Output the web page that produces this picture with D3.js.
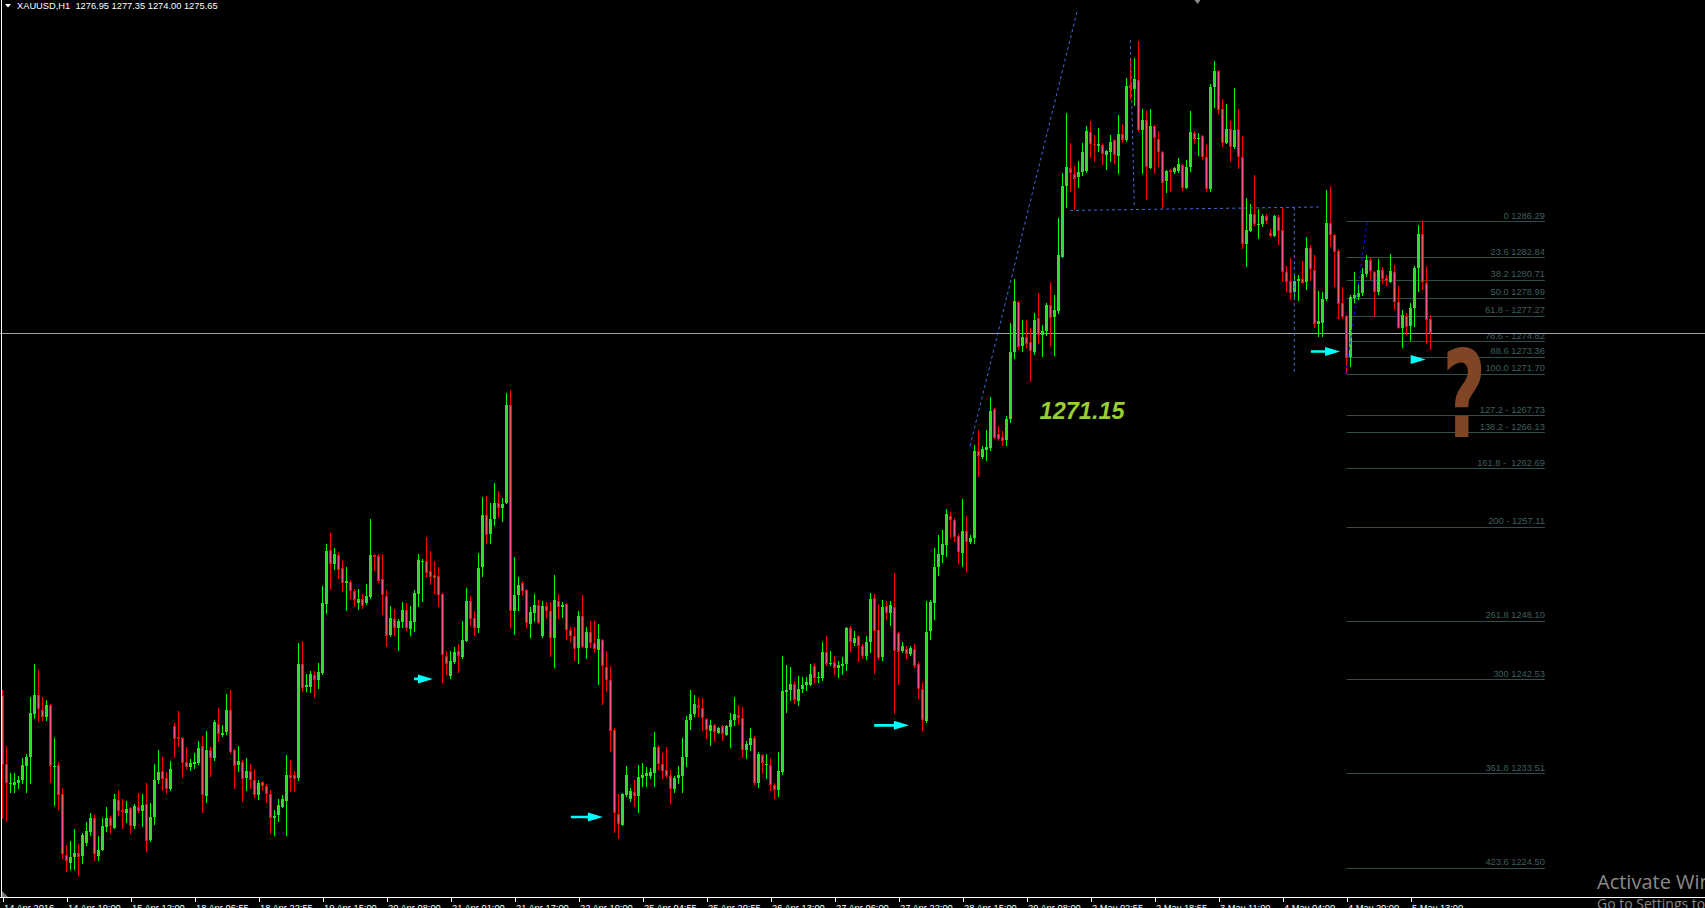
<!DOCTYPE html>
<html><head><meta charset="utf-8">
<script src="https://cdn.jsdelivr.net/npm/d3@7"></script>
<style>
html,body{margin:0;padding:0;background:#000;overflow:hidden}
svg{display:block}
</style></head><body>
<script>
// ---------- DATA (XAUUSD H1) ----------
const opens=[
1241.0,1234.4,1232.5,1232.4,1232.6,1232.9,1234.2,1235.1,1239.2,1241.0,
1239.6,1238.9,1240.0,1234.1,1234.3,1231.5,1225.7,1224.9,1225.5,1225.9,
1225.6,1226.9,1227.9,1229.2,1225.6,1226.2,1228.4,1229.2,1228.3,1231.0,
1230.0,1229.7,1230.2,1228.5,1230.3,1229.9,1230.6,1227.1,1229.3,1232.9,
1233.7,1233.1,1232.0,1238.0,1237.0,1236.9,1234.6,1234.1,1234.4,1234.5,
1236.1,1231.3,1235.7,1235.0,1238.2,1237.2,1237.5,1239.6,1235.7,1234.3,
1234.6,1233.1,1233.7,1232.9,1231.4,1232.7,1232.3,1231.5,1229.2,1229.5,
1230.3,1230.9,1233.4,1233.4,1233.1,1244.0,1241.8,1241.8,1242.9,1242.4,
1243.1,1249.7,1254.9,1253.5,1254.4,1253.1,1251.7,1251.8,1250.9,1249.8,
1250.2,1249.8,1250.4,1254.4,1254.3,1252.1,1250.5,1246.7,1248.3,1247.4,
1248.0,1249.1,1247.3,1248.0,1250.7,1253.7,1253.8,1252.9,1252.5,1252.4,
1250.7,1244.7,1242.8,1244.2,1245.2,1244.6,1246.2,1250.0,1248.4,1247.4,
1253.2,1258.2,1256.4,1257.8,1259.4,1258.9,1259.4,1268.7,1249.0,1250.6,
1251.7,1251.0,1247.8,1248.8,1249.6,1246.6,1249.5,1249.0,1246.5,1250.0,
1249.4,1249.7,1247.2,1246.6,1245.5,1248.6,1245.5,1247.0,1246.0,1245.3,
1246.3,1243.7,1242.4,1237.7,1229.6,1228.6,1231.4,1231.1,1231.7,1231.3,
1233.1,1233.3,1233.3,1233.5,1236.0,1234.4,1233.8,1233.3,1232.0,1233.1,
1233.3,1235.1,1238.6,1239.2,1240.0,1239.8,1238.7,1237.6,1238.1,1237.4,
1238.0,1237.2,1237.9,1238.6,1239.1,1238.8,1235.7,1236.2,1236.9,1232.6,
1235.3,1234.3,1234.3,1232.4,1231.9,1233.6,1241.3,1241.5,1242.1,1240.4,
1241.6,1242.0,1242.0,1243.8,1242.6,1242.6,1245.1,1244.0,1244.2,1243.6,
1243.8,1244.0,1247.4,1246.0,1246.6,1245.7,1244.7,1246.1,1250.3,1247.2,
1244.6,1249.5,1248.8,1249.4,1246.9,1245.2,1245.4,1244.9,1245.4,1244.0,
1241.6,1238.5,1247.1,1249.8,1253.2,1254.4,1255.3,1258.1,1257.7,1256.2,
1254.6,1256.7,1255.6,1256.0,1264.3,1263.8,1264.4,1264.6,1268.3,1266.0,
1265.7,1265.4,1267.4,1273.8,1278.6,1274.4,1275.2,1274.8,1273.8,1277.0,
1275.4,1275.8,1278.3,1277.1,1277.7,1282.9,1289.7,1291.4,1290.8,1290.5,
1291.0,1291.1,1294.8,1293.7,1293.5,1293.6,1292.6,1292.9,1294.1,1292.5,
1294.6,1294.1,1299.3,1298.9,1299.8,1295.0,1296.0,1291.4,1295.4,1294.2,
1292.9,1290.1,1291.2,1291.0,1291.1,1291.7,1289.5,1291.5,1294.7,1294.2,
1294.4,1292.4,1289.4,1299.1,1300.7,1297.0,1293.8,1295.1,1293.4,1295.1,
1292.4,1284.1,1285.4,1287.0,1285.9,1286.0,1286.8,1285.2,1284.9,1286.7,
1285.5,1281.4,1280.6,1279.5,1280.6,1280.8,1280.5,1283.7,1281.6,1276.5,
1276.6,1278.9,1286.1,1285.0,1283.5,1278.5,1277.2,1273.3,1279.0,1279.1,
1279.4,1281.3,1282.6,1281.4,1279.5,1281.6,1280.9,1280.5,1281.4,1278.6,
1276.1,1277.2,1276.3,1278.0,1281.8,1285.1,1280.4,1276.95];
const highs=[
1241.5,1236.1,1233.5,1233.5,1233.3,1235.0,1235.4,1240.8,1244.0,1243.4,
1240.8,1240.5,1240.1,1236.9,1234.6,1232.1,1226.7,1227.0,1228.2,1226.8,
1227.8,1228.9,1229.7,1229.5,1227.5,1229.2,1230.3,1229.4,1231.5,1231.9,
1231.1,1230.9,1230.3,1230.6,1231.6,1231.5,1232.6,1230.7,1234.4,1235.7,
1235.1,1233.6,1234.7,1238.3,1239.5,1237.0,1236.0,1234.9,1235.5,1236.6,
1237.1,1237.6,1236.0,1238.6,1239.8,1238.1,1241.1,1241.5,1235.8,1236.1,
1234.8,1235.0,1234.4,1233.9,1232.9,1232.8,1232.5,1231.9,1230.0,1231.1,
1231.4,1235.3,1234.8,1233.7,1246.0,1246.2,1243.0,1243.3,1243.3,1244.1,
1251.4,1255.4,1256.5,1255.1,1254.7,1253.8,1253.2,1252.0,1251.1,1251.1,
1250.7,1251.6,1257.8,1254.5,1254.5,1254.5,1251.0,1249.5,1249.2,1248.3,
1249.9,1249.8,1249.5,1251.0,1254.5,1254.0,1256.1,1254.8,1253.8,1253.2,
1250.8,1245.2,1245.2,1245.6,1245.9,1248.1,1251.2,1250.5,1249.0,1254.6,
1259.9,1260.0,1259.4,1261.3,1260.5,1259.8,1269.9,1270.2,1254.2,1252.3,
1251.9,1251.1,1249.4,1250.7,1250.1,1250.0,1249.9,1249.9,1252.5,1250.7,
1249.9,1249.8,1247.5,1247.5,1249.0,1250.6,1247.5,1248.1,1248.1,1247.8,
1246.4,1245.2,1243.8,1237.8,1231.5,1231.6,1234.2,1232.1,1232.9,1234.3,
1234.5,1234.1,1234.0,1237.5,1236.2,1235.5,1236.0,1233.8,1233.3,1234.2,
1236.9,1239.0,1241.5,1241.0,1240.8,1240.7,1238.8,1238.6,1238.2,1237.9,
1238.1,1238.1,1239.3,1240.8,1240.0,1239.9,1236.6,1237.8,1237.1,1235.6,
1235.4,1235.4,1235.0,1232.6,1235.6,1244.7,1243.9,1243.7,1242.3,1242.8,
1242.7,1242.7,1244.0,1244.1,1243.2,1246.1,1246.6,1245.2,1244.7,1244.3,
1244.6,1247.5,1247.6,1247.1,1246.7,1245.9,1246.6,1250.8,1250.7,1249.7,
1250.1,1250.0,1250.0,1252.7,1247.0,1246.1,1245.7,1245.7,1245.9,1244.2,
1242.2,1250.0,1250.1,1255.1,1256.3,1256.8,1258.8,1258.5,1257.9,1256.4,
1259.7,1258.1,1256.3,1264.9,1266.3,1264.8,1266.3,1269.5,1268.4,1266.7,
1266.2,1267.7,1276.6,1280.8,1278.7,1276.9,1276.9,1276.1,1277.5,1279.4,
1276.4,1278.5,1280.5,1279.2,1286.6,1290.9,1296.6,1293.8,1291.6,1292.1,
1293.8,1295.4,1295.9,1294.5,1295.2,1293.8,1293.1,1294.5,1294.2,1296.5,
1295.6,1300.0,1301.9,1301.9,1303.5,1297.0,1296.8,1297.0,1295.5,1294.9,
1293.0,1291.2,1291.3,1291.5,1292.3,1291.8,1292.2,1296.8,1294.9,1294.7,
1294.5,1293.6,1299.4,1301.6,1300.8,1298.0,1297.5,1295.9,1299.0,1297.0,
1294.4,1288.5,1287.9,1290.7,1287.5,1287.0,1287.0,1285.6,1286.9,1286.9,
1287.6,1282.0,1282.8,1281.2,1281.2,1282.5,1284.8,1284.0,1283.1,1279.6,
1279.5,1289.3,1289.7,1285.1,1283.6,1280.0,1277.3,1279.2,1281.4,1280.4,
1281.8,1283.1,1282.8,1281.5,1282.7,1281.9,1281.2,1283.2,1282.1,1280.1,
1277.8,1277.5,1278.5,1282.0,1285.9,1286.29,1282.0,1277.35];
const lows=[
1229.2,1228.9,1231.7,1231.7,1232.1,1232.5,1231.7,1232.5,1238.8,1238.5,
1238.6,1238.6,1232.6,1230.4,1230.1,1225.4,1224.1,1224.3,1224.3,1223.7,
1224.9,1226.6,1227.6,1225.2,1225.2,1226.1,1228.0,1227.8,1228.2,1229.5,
1228.2,1228.8,1227.8,1228.2,1229.8,1228.4,1226.0,1227.0,1228.6,1232.5,
1231.9,1231.6,1231.9,1235.0,1236.1,1233.1,1234.0,1233.8,1234.0,1234.4,
1229.8,1230.7,1233.2,1234.7,1236.6,1237.0,1237.2,1235.4,1232.1,1233.7,
1230.8,1231.9,1232.1,1231.2,1231.0,1231.9,1230.7,1227.8,1227.6,1228.9,
1230.2,1227.6,1231.8,1231.8,1232.8,1241.3,1241.3,1241.2,1240.8,1241.6,
1243.0,1248.8,1251.1,1253.0,1252.1,1250.9,1249.1,1250.2,1249.5,1249.2,
1249.3,1249.7,1250.2,1252.9,1251.8,1248.7,1245.6,1246.6,1246.7,1245.3,
1247.5,1247.2,1246.7,1247.1,1249.5,1249.9,1252.3,1251.6,1250.7,1249.5,
1242.2,1243.0,1242.6,1244.0,1243.2,1244.5,1246.1,1247.6,1246.7,1247.0,
1252.3,1255.5,1255.5,1257.2,1258.0,1257.6,1259.3,1247.5,1246.8,1249.1,
1250.5,1247.5,1246.5,1248.0,1247.8,1246.5,1248.4,1244.7,1243.6,1248.3,
1248.4,1246.3,1246.1,1244.3,1244.0,1245.5,1244.5,1245.5,1245.1,1242.0,
1240.1,1241.3,1235.6,1227.9,1227.3,1228.5,1231.3,1230.8,1230.3,1229.8,
1232.3,1232.3,1233.0,1232.3,1233.9,1233.0,1233.1,1230.6,1231.7,1232.5,
1231.7,1234.2,1237.7,1238.9,1238.9,1237.6,1236.8,1236.2,1236.6,1237.3,
1236.7,1237.1,1236.0,1238.1,1238.2,1235.0,1234.9,1235.7,1232.4,1232.2,
1233.5,1233.0,1231.9,1231.1,1231.3,1233.4,1239.3,1240.5,1240.2,1240.0,
1241.2,1241.4,1241.9,1242.2,1242.2,1242.4,1243.8,1243.8,1243.0,1242.7,
1243.0,1243.3,1245.2,1245.7,1244.2,1244.5,1244.4,1245.1,1243.1,1244.4,
1244.3,1248.2,1247.6,1239.2,1242.0,1245.1,1244.5,1244.8,1243.6,1240.7,
1237.6,1238.4,1246.3,1248.2,1252.4,1253.7,1254.2,1256.1,1255.7,1253.6,
1253.3,1252.8,1255.5,1255.5,1261.9,1263.6,1263.4,1264.4,1265.5,1265.3,
1264.9,1264.9,1267.1,1273.2,1274.0,1273.8,1274.2,1271.0,1273.6,1274.6,
1273.4,1275.4,1274.4,1273.5,1277.5,1282.8,1287.6,1289.1,1287.4,1289.5,
1290.7,1291.0,1292.4,1292.0,1293.0,1291.7,1291.2,1292.0,1291.8,1290.9,
1293.8,1293.9,1298.0,1297.4,1294.9,1290.9,1288.4,1291.3,1290.9,1291.5,
1287.5,1289.0,1289.1,1290.9,1291.0,1289.2,1289.4,1291.1,1293.7,1292.6,
1292.2,1289.1,1289.1,1297.2,1296.6,1293.4,1293.7,1292.0,1293.3,1291.3,
1283.7,1282.0,1285.3,1285.9,1284.6,1285.8,1286.1,1284.8,1284.8,1284.1,
1280.5,1279.6,1278.8,1278.8,1278.7,1280.3,1279.8,1280.6,1276.1,1275.3,
1275.3,1278.7,1283.9,1280.1,1277.0,1277.0,1271.7,1272.4,1278.5,1278.8,
1279.2,1281.0,1280.7,1277.2,1279.3,1280.3,1280.2,1280.4,1277.9,1276.0,
1274.2,1275.5,1274.9,1276.2,1279.6,1279.8,1274.6,1274.00];
const closes=[
1234.3,1232.6,1232.6,1232.7,1232.9,1234.3,1235.1,1239.3,1241.0,1239.7,
1238.9,1240.0,1234.2,1234.2,1231.4,1225.8,1225.1,1225.5,1225.9,1225.5,
1227.6,1228.0,1229.2,1225.8,1226.2,1228.5,1229.2,1228.5,1231.1,1229.9,
1229.8,1230.1,1228.5,1230.4,1229.9,1230.5,1227.0,1229.3,1232.9,1233.6,
1233.0,1232.0,1233.9,1236.8,1236.8,1234.5,1234.1,1234.5,1234.6,1235.9,
1231.4,1235.7,1235.0,1238.4,1237.3,1237.4,1239.6,1235.6,1234.2,1234.7,
1233.0,1233.7,1232.9,1231.4,1232.6,1232.3,1231.5,1229.2,1229.4,1230.5,
1231.1,1233.4,1233.1,1233.0,1244.0,1241.7,1242.0,1243.0,1242.4,1243.2,
1249.8,1254.8,1253.5,1254.5,1253.0,1251.7,1251.9,1250.9,1250.1,1250.2,
1249.5,1250.5,1254.4,1254.2,1251.9,1250.6,1246.6,1248.4,1247.4,1248.1,
1249.1,1247.4,1248.1,1250.8,1253.9,1253.8,1252.7,1252.3,1252.2,1250.6,
1244.8,1244.0,1244.3,1245.1,1244.7,1246.3,1250.0,1248.3,1247.4,1253.1,
1258.2,1256.3,1257.8,1259.4,1258.9,1259.3,1268.7,1249.0,1250.6,1251.5,
1250.9,1247.9,1248.9,1249.6,1247.9,1249.5,1249.0,1246.5,1250.1,1249.4,
1249.6,1247.2,1246.6,1245.4,1248.6,1245.6,1247.0,1246.0,1245.4,1246.4,
1243.8,1242.4,1237.6,1229.7,1228.7,1231.5,1233.4,1231.8,1231.3,1233.2,
1233.4,1233.5,1233.6,1236.0,1234.4,1233.7,1233.3,1232.0,1233.1,1233.4,
1235.1,1238.6,1239.2,1240.1,1239.8,1238.8,1237.7,1238.1,1237.5,1237.8,
1237.3,1238.0,1238.6,1239.2,1238.8,1235.7,1236.3,1236.9,1232.6,1235.4,
1234.5,1234.4,1232.4,1231.9,1233.7,1241.4,1241.5,1242.1,1240.5,1241.6,
1242.0,1242.2,1243.0,1242.6,1242.7,1245.1,1244.0,1244.1,1243.6,1243.9,
1244.0,1247.4,1246.1,1246.5,1245.7,1244.7,1246.1,1250.2,1247.1,1244.5,
1249.4,1248.8,1249.6,1245.2,1245.1,1245.7,1244.9,1245.5,1243.8,1241.6,
1238.6,1247.0,1249.9,1253.2,1254.5,1255.4,1258.3,1257.7,1256.1,1254.7,
1256.7,1255.6,1256.0,1264.3,1263.9,1264.5,1264.7,1268.2,1265.6,1265.5,
1265.3,1267.4,1273.8,1278.7,1274.3,1275.2,1274.6,1273.9,1276.9,1275.4,
1275.8,1278.3,1277.0,1277.8,1283.1,1289.7,1291.5,1290.9,1290.3,1291.0,
1292.9,1294.9,1293.7,1293.6,1293.7,1292.7,1293.0,1293.9,1292.6,1294.6,
1294.1,1299.2,1299.0,1299.9,1295.0,1296.0,1291.5,1295.4,1294.3,1292.9,
1290.0,1291.1,1291.0,1291.4,1291.8,1289.5,1291.5,1294.8,1294.2,1294.3,
1292.4,1289.4,1299.1,1300.7,1296.9,1293.8,1295.1,1293.4,1295.0,1292.4,
1284.1,1285.5,1287.0,1286.0,1286.0,1286.8,1286.3,1284.9,1286.8,1285.4,
1281.4,1280.5,1279.4,1280.6,1280.8,1280.4,1283.7,1281.7,1276.5,1276.8,
1278.9,1286.1,1285.0,1283.4,1278.4,1277.1,1273.2,1279.1,1279.2,1279.4,
1281.3,1282.6,1281.5,1279.5,1281.6,1280.8,1280.6,1281.5,1278.6,1276.1,
1277.3,1276.2,1278.0,1281.8,1285.1,1280.5,1276.9,1275.65];

const tickBars=[0,16,32,48,64,80,96,112,128,144,160,176,192,208,224,240,256,272,288,304,320,336,352];
const tickLabels=["14 Apr 2016","14 Apr 19:00","15 Apr 12:00","18 Apr 06:55","18 Apr 22:55","19 Apr 15:00",
"20 Apr 08:00","21 Apr 01:00","21 Apr 17:00","22 Apr 10:00","25 Apr 04:55","25 Apr 20:55","26 Apr 13:00",
"27 Apr 06:00","27 Apr 22:00","28 Apr 15:00","29 Apr 08:00","2 May 02:55","2 May 18:55","3 May 11:00",
"4 May 04:00","4 May 20:00","5 May 13:00"];

const fibPrices=[1286.29,1282.84,1280.71,1278.99,1277.27,1274.82,1273.36,1271.70,1267.73,1266.13,1262.69,1257.11,1248.10,1242.53,1233.51,1224.50];
const fibLabels=["0 1286.29","23.6 1282.84","38.2 1280.71","50.0 1278.99","61.8 - 1277.27","78.6 - 1274.82","88.6 1273.36","100.0 1271.70",
"127.2 - 1267.73","138.2 - 1266.13","161.8 -  1262.69","200 - 1257.11","261.8 1248.10","300 1242.53","361.8 1233.51","423.6 1224.50"];
const fibStartBar=336, fibEndBar=385.6;

const symbol="XAUUSD,H1";
const lastBid=1275.65;

// trend lines: [bar1, price1, bar2, price2]
const trendRoyal=[[241.9,1264.81,268.6,1306.30],[281.95,1303.63,282.95,1287.76],[266.9,1287.33,329.1,1287.66],[322.95,1287.66,322.95,1271.79]];
const trendFib=[[335.8,1271.70,341.2,1286.29]];
// cyan arrows: [tailBar, tipBar, price, hasShaft]
const arrows=[[102.9,107.6,1242.54,1],[142.1,150.1,1229.34,1],[217.9,226.6,1238.1,1],[327.1,334.4,1273.85,1],[352.05,355.8,1273.08,0]];
const noteText="1271.15", noteBar=269.9, notePrice=1267.4;
const qBar=365.4, qPrice=1265.67;

// ---------- CHART ----------
const W=1705,H=908;
const svg=d3.select("body").append("svg").attr("width",W).attr("height",H).style("background","#000");
const x=d3.scaleLinear().domain([0,357]).range([2.5,1430.5]);
const y=d3.scaleLinear().domain([1221.69,1307.45]).range([897,0]);
const bars=d3.range(opens.length).map(i=>({i,o:opens[i],h:highs[i],l:lows[i],c:closes[i]}));

const plot=svg.append("g");
svg.append("defs").append("clipPath").attr("id","clip").append("rect").attr("x",0).attr("y",0).attr("width",W).attr("height",897);
plot.attr("clip-path","url(#clip)");

// fib levels
const fib=plot.append("g");
fib.selectAll("line").data(fibPrices).join("line")
  .attr("x1",x(fibStartBar)).attr("x2",x(fibEndBar))
  .attr("y1",d=>Math.round(y(d))+0.5).attr("y2",d=>Math.round(y(d))+0.5)
  .attr("stroke","#2f4f4f").attr("stroke-width",1);
fib.selectAll("text").data(fibPrices).join("text")
  .attr("x",x(fibEndBar)).attr("y",d=>y(d)-2.5)
  .attr("text-anchor","end").attr("fill","#3f5f5f")
  .style("font-family","Liberation Sans, Arial, sans-serif").style("font-size","9.3px")
  .style("white-space","pre")
  .text((d,i)=>fibLabels[i]);

// bid line
plot.append("line").attr("x1",0).attr("x2",W).attr("y1",Math.round(y(lastBid))+0.5).attr("y2",Math.round(y(lastBid))+0.5)
  .attr("stroke","#9aa6b2").attr("stroke-width",1);

// candles
const cg=plot.append("g").attr("shape-rendering","crispEdges");
const cand=cg.selectAll("g").data(bars).join("g");
cand.append("line")
  .attr("x1",d=>x(d.i)).attr("x2",d=>x(d.i))
  .attr("y1",d=>y(d.h)).attr("y2",d=>y(d.l)+0.5)
  .attr("stroke",d=>d.c>=d.o?"#00ff00":"#ff0000").attr("stroke-width",1);
cand.append("rect")
  .attr("x",d=>x(d.i)-1.5).attr("width",3)
  .attr("y",d=>y(Math.max(d.o,d.c)))
  .attr("height",d=>Math.max(1,y(Math.min(d.o,d.c))-y(Math.max(d.o,d.c))))
  .attr("fill",d=>d.c>=d.o?"#36d936":"#ff0000");
cand.filter(d=>d.c<d.o && (y(d.c)-y(d.o))>2.5).append("rect")
  .attr("x",d=>x(d.i)-0.5).attr("width",1)
  .attr("y",d=>y(d.o)+1)
  .attr("height",d=>y(d.c)-y(d.o)-2)
  .attr("fill","#f05a78");

// trend lines
plot.append("g").selectAll("line").data(trendRoyal).join("line")
  .attr("x1",d=>x(d[0])).attr("y1",d=>y(d[1])).attr("x2",d=>x(d[2])).attr("y2",d=>y(d[3]))
  .attr("stroke","#4169e1").attr("stroke-width",1).attr("stroke-dasharray","3,3");
plot.append("g").selectAll("line").data(trendFib).join("line")
  .attr("x1",d=>x(d[0])).attr("y1",d=>y(d[1])).attr("x2",d=>x(d[2])).attr("y2",d=>y(d[3]))
  .attr("stroke","#1010f0").attr("stroke-width",1).attr("stroke-dasharray","3,3");

// arrows
const ag=plot.append("g");
arrows.forEach(a=>{
  const xt=x(a[0]), xp=x(a[1]), yy=y(a[2]);
  const headLen=Math.min(15,xp-xt);
  const xh=xp-headLen;
  let p="";
  if(a[3]) p+=`M${xt},${yy-1.3}L${xh},${yy-1.3}L${xh},${yy+1.3}L${xt},${yy+1.3}Z`;
  p+=`M${xh},${yy-4.5}L${xp},${yy}L${xh},${yy+4.5}Z`;
  ag.append("path").attr("d",p).attr("fill","#00ffff");
});

// annotation text
plot.append("text").attr("x",x(noteBar)).attr("y",y(notePrice)).attr("text-anchor","middle")
  .attr("fill","#9acd32").style("font-family","Liberation Sans, Arial, sans-serif")
  .style("font-size","23.5px").style("font-weight","bold").style("font-style","italic").text(noteText);
plot.append("text").attr("transform",`translate(${x(qBar)},${y(qPrice)}) scale(0.62,1)`)
  .attr("text-anchor","middle").attr("fill","#7f4524")
  .style("font-family","DejaVu Sans, sans-serif").style("font-size","122px").style("font-weight","bold").text("?");

// small gray marker at top
plot.append("path").attr("d",`M${x(298.75)-3},0L${x(298.75)+3},0L${x(298.75)},4Z`).attr("fill","#8a8a8a");

// axis
const xAxis=d3.axisBottom(x).tickValues(tickBars).tickFormat((d,i)=>tickLabels[i]).tickSize(4).tickSizeOuter(0);
const axg=svg.append("g").attr("transform","translate(0,897.5)").call(xAxis);
axg.select(".domain").remove();
axg.selectAll(".tick line").attr("stroke","#fff").attr("shape-rendering","crispEdges");
axg.selectAll(".tick text").attr("fill","#fff").attr("text-anchor","start").attr("dx","1")
  .style("font-family","Liberation Sans, Arial, sans-serif").style("font-size","9.3px");
svg.append("line").attr("x1",0).attr("x2",W).attr("y1",897.5).attr("y2",897.5).attr("stroke","#fff").attr("stroke-width",1);
svg.append("line").attr("x1",1.5).attr("x2",1.5).attr("y1",0).attr("y2",898).attr("stroke","#fff").attr("stroke-width",1);
svg.append("path").attr("d","M2,891L2,897L8,897Z").attr("fill","#7a7a7a");

// header
svg.append("path").attr("d","M5,4L11,4L8,7.5Z").attr("fill","#fff");
svg.append("text").attr("x",17).attr("y",9).attr("fill","#fff").style("white-space","pre")
  .style("font-family","Liberation Sans, Arial, sans-serif").style("font-size","9.3px")
  .text(`${symbol}  ${opens[opens.length-1].toFixed(2)} ${highs[highs.length-1].toFixed(2)} ${lows[lows.length-1].toFixed(2)} ${closes[closes.length-1].toFixed(2)}`);

// OS watermark
svg.append("text").attr("x",1597).attr("y",889).attr("fill","#8a8a8a")
  .style("font-family","Open Sans, Noto Sans, sans-serif").style("font-size","20px").text("Activate Windows");
svg.append("text").attr("x",1597).attr("y",909).attr("fill","#8a8a8a")
  .style("font-family","Open Sans, Noto Sans, sans-serif").style("font-size","14px").text("Go to Settings to activate Windows.");
</script>
</body></html>
